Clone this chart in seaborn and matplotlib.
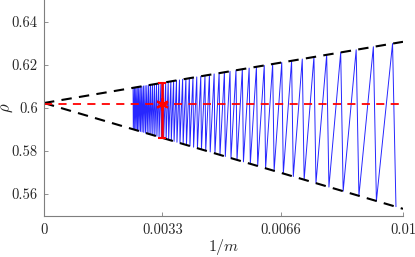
import numpy as np
import pandas as pd
import matplotlib
matplotlib.use("Agg")
import matplotlib.pyplot as plt
import seaborn as sns

# ---- data ----
peak_m = [403, 397, 391, 385, 379, 373, 367, 361, 355, 349, 343, 337, 331, 325,
          319, 313, 307, 301, 295, 289, 283, 277, 271, 265, 259, 253, 247, 241,
          235, 229, 223, 217, 211, 205, 199, 193, 187, 181, 175, 169, 163, 157,
          151, 145, 139, 133, 127, 121, 115, 109, 103]
peak_rho = [0.6092, 0.6094, 0.6095, 0.6096, 0.6097, 0.6098, 0.6099, 0.6101,
            0.6102, 0.6103, 0.6105, 0.6106, 0.6108, 0.6109, 0.6111, 0.6113,
            0.6115, 0.6116, 0.6118, 0.6120, 0.6122, 0.6125, 0.6127, 0.6129,
            0.6132, 0.6134, 0.6137, 0.6140, 0.6143, 0.6146, 0.6149, 0.6153,
            0.6157, 0.6161, 0.6165, 0.6169, 0.6174, 0.6179, 0.6184, 0.6190,
            0.6196, 0.6203, 0.6210, 0.6218, 0.6226, 0.6236, 0.6246, 0.6257,
            0.6269, 0.6283, 0.6298]
trough_m = [402, 396, 390, 384, 378, 372, 366, 360, 354, 348, 342, 336, 330, 324,
            318, 312, 306, 300, 294, 288, 282, 276, 270, 264, 258, 252, 246, 240,
            234, 228, 222, 216, 210, 204, 198, 192, 186, 180, 174, 168, 162, 156,
            150, 144, 138, 132, 126, 120, 114, 108, 102]
trough_rho = [0.5900, 0.5898, 0.5896, 0.5894, 0.5892, 0.5890, 0.5888, 0.5886,
              0.5883, 0.5881, 0.5878, 0.5876, 0.5873, 0.5870, 0.5868, 0.5865,
              0.5862, 0.5858, 0.5855, 0.5852, 0.5848, 0.5844, 0.5840, 0.5836,
              0.5832, 0.5827, 0.5822, 0.5817, 0.5812, 0.5807, 0.5801, 0.5795,
              0.5788, 0.5781, 0.5774, 0.5766, 0.5758, 0.5749, 0.5740, 0.5730,
              0.5719, 0.5707, 0.5695, 0.5681, 0.5666, 0.5650, 0.5632, 0.5613,
              0.5591, 0.5567, 0.5541]

env_x = [0.0, 0.01]
upper_rho = [0.6022, 0.6306]
lower_rho = [0.6022, 0.5531]
rho_inf = 0.6016

err_x = 0.0033
err_center = 0.6016
err_lo = 0.5861
err_hi = 0.6116

xticks = [0, 0.0033, 0.0066, 0.01]
xticklabels = ["0", "0.0033", "0.0066", "0.01"]
yticks = [0.56, 0.58, 0.60, 0.62, 0.64]
yticklabels = ["0.56", "0.58", "0.6", "0.62", "0.64"]

# ---- build zigzag table ----
xs, ys = [], []
for pm, pr, tm, tr in zip(peak_m, peak_rho, trough_m, trough_rho):
    xs += [1.0 / pm, 1.0 / tm]
    ys += [pr, tr]
df = pd.DataFrame({"inv_m": xs, "rho": ys})

sns.set_style("ticks", {"xtick.direction": "in", "ytick.direction": "in"})
plt.rcParams["font.family"] = ["cmr10", "DejaVu Serif"]
plt.rcParams["mathtext.fontset"] = "cm"
plt.rcParams["axes.formatter.use_mathtext"] = True

fig = plt.figure(figsize=(4.15, 2.57), dpi=100)
ax = fig.add_axes([44 / 415, 1 - 215.5 / 257, (403 - 44) / 415, 215.5 / 257])

sns.lineplot(data=df, x="inv_m", y="rho", sort=False, estimator=None,
             color=(0.0, 0.0, 1.0), lw=0.7, alpha=0.85, ax=ax)

ax.plot(env_x, upper_rho, color="black", ls=(0, (5, 3.5)), lw=1.5)
ax.plot(env_x, lower_rho, color="black", ls=(0, (5, 3.5)), lw=1.5)
ax.plot(env_x, [rho_inf, rho_inf], color="red", ls=(0, (4.5, 3.5)), lw=1.3)

ax.errorbar([err_x], [err_center],
            yerr=[[err_center - err_lo], [err_hi - err_center]],
            color="red", lw=1.8, capsize=3, capthick=1.5,
            marker=(6, 2, 0), markersize=9, mew=1.5, zorder=5)

ax.set_xlim(0, 0.01)
ax.set_ylim(0.55, 0.65)
ax.set_xticks(xticks)
ax.set_xticklabels(xticklabels)
ax.set_yticks(yticks)
ax.set_yticklabels(yticklabels)
ax.tick_params(axis="both", labelsize=10.5, length=3, width=0.6,
               colors="#7f7f7f", labelcolor="#262626")
ax.tick_params(axis="y", pad=4.5)
ax.tick_params(axis="x", pad=5.5)
for side in ["top", "right"]:
    ax.spines[side].set_visible(False)
for side in ["left", "bottom"]:
    ax.spines[side].set_color("#7f7f7f")
    ax.spines[side].set_linewidth(0.8)

ax.set_xlabel(r"$1/m$", fontsize=11.5, color="#262626")
ax.set_ylabel(r"$\rho$", fontsize=12, color="#262626")
ax.xaxis.set_label_coords(0.5, -0.1)
ax.yaxis.set_label_coords(-0.082, 0.5)

fig.savefig("out.png", dpi=100)
